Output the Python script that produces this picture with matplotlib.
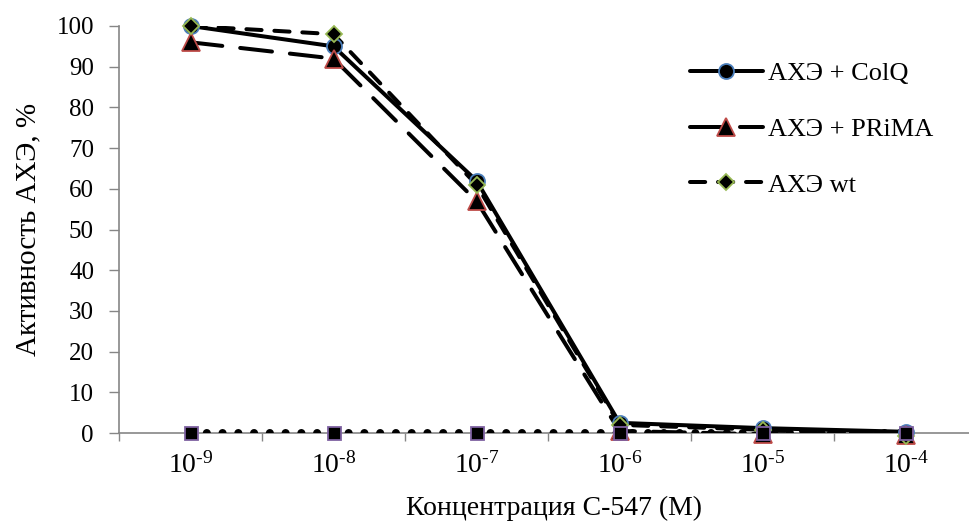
import matplotlib
matplotlib.use("Agg")
import matplotlib.pyplot as plt
from matplotlib.lines import Line2D
import numpy as np

plt.rcParams['font.family'] = ['Liberation Serif', 'DejaVu Serif']
plt.rcParams['mathtext.fontset'] = 'custom'
plt.rcParams['mathtext.rm'] = 'Liberation Serif'
plt.rcParams['mathtext.it'] = 'Liberation Serif:italic'
plt.rcParams['mathtext.bf'] = 'Liberation Serif:bold'

# ---- data ----
exponents = ['-9', '-8', '-7', '-6', '-5', '-4']
tick_labels = [r'$\mathrm{10^{\text{%s}}}$' % e for e in exponents]
colq = [100, 95, 62, 2.5, 1.2, 0.3]
prima = [96, 92, 57, 0.5, -0.3, -0.5]
wt = [100, 98, 61, 2, 0.8, -0.7]
control = [0, 0, 0, 0, 0, 0]
series_names = ['АХЭ + ColQ', 'АХЭ + PRiMA', 'АХЭ wt']
xlabel = 'Концентрация С-547 (М)'
ylabel = 'Активность АХЭ, %'

W, H = 969, 530
fig = plt.figure(figsize=(W / 100, H / 100), dpi=100)
left, right, top, bottom = 119, 977, 26, 433
ax = fig.add_axes([left / W, 1 - bottom / H, (right - left) / W, (bottom - top) / H])

x = np.arange(len(exponents))
px = 72 / 100  # points per pixel
lw = 4 * px

styles = [
    dict(data=colq, dashes=None, marker='o', ms=15 * px, mec='#4a7ebb'),
    dict(data=prima, dashes=(8, 4.5), marker='^', ms=18 * px, mec='#be4b48'),
    dict(data=wt, dashes=(3.8, 3.2), marker='D', ms=12 * px, mec='#98b954'),
]

handles = []
for st in styles:
    kw = dict(color='black', lw=lw, solid_capstyle='round', dash_capstyle='round')
    if st['dashes'] is not None:
        ln, = ax.plot(x, st['data'], ls='--', **kw)
        ln.set_dashes(st['dashes'])
    else:
        ln, = ax.plot(x, st['data'], ls='-', **kw)
    ax.plot(x, st['data'], ls='none', marker=st['marker'], ms=st['ms'], mfc='black',
            mec=st['mec'], mew=1.8 * px, clip_on=False, zorder=5)
    h = Line2D([], [], color='black', lw=lw, marker=st['marker'], ms=st['ms'], mfc='black',
               mec=st['mec'], mew=1.8 * px, solid_capstyle='round', dash_capstyle='round')
    if st['dashes'] is not None:
        h.set_linestyle('--')
        h.set_dashes(st['dashes'])
    handles.append(h)

# control series (dotted, squares)
dl, = ax.plot(x, control, color='black', lw=8 * px, ls='--', dash_capstyle='round')
dl.set_dashes((0.01, 1.96))
ax.plot(x, control, ls='none', marker='s', ms=13 * px, mfc='black', mec='#7d60a0',
        mew=1.8 * px, clip_on=False, zorder=6)

ax.set_xlim(-0.5, len(exponents) - 0.5)
ax.set_ylim(0, 100)
ax.set_yticks(np.arange(0, 101, 10))
ax.set_xticks(x)
ax.set_xticklabels(tick_labels)
ax.set_xticks(np.arange(-0.5, len(exponents), 1), minor=True)
ax.tick_params(axis='x', which='major', length=0, pad=14, labelsize=20)
ax.tick_params(axis='x', which='minor', length=6, width=1, color='#868686', direction='out')
ax.tick_params(axis='y', length=7, width=1, color='#868686', direction='out', pad=11, labelsize=18)

for s in ['top', 'right']:
    ax.spines[s].set_visible(False)
for s in ['left', 'bottom']:
    ax.spines[s].set_color('#868686')
    ax.spines[s].set_linewidth(1.2)
    ax.spines[s].set_zorder(0.5)

ax.set_xlabel(xlabel, fontsize=20, labelpad=12)
ax.xaxis.label.set_x(0.507)
ax.set_ylabel(ylabel, fontsize=21, labelpad=11)

leg = fig.legend(handles, series_names, loc='center left',
                 bbox_to_anchor=(690 / W, 1 - 129 / H), frameon=False,
                 fontsize=19, handlelength=2.75, handletextpad=0.22,
                 labelspacing=1.23, borderpad=0, borderaxespad=0)

fig.savefig('out.png', dpi=100)
